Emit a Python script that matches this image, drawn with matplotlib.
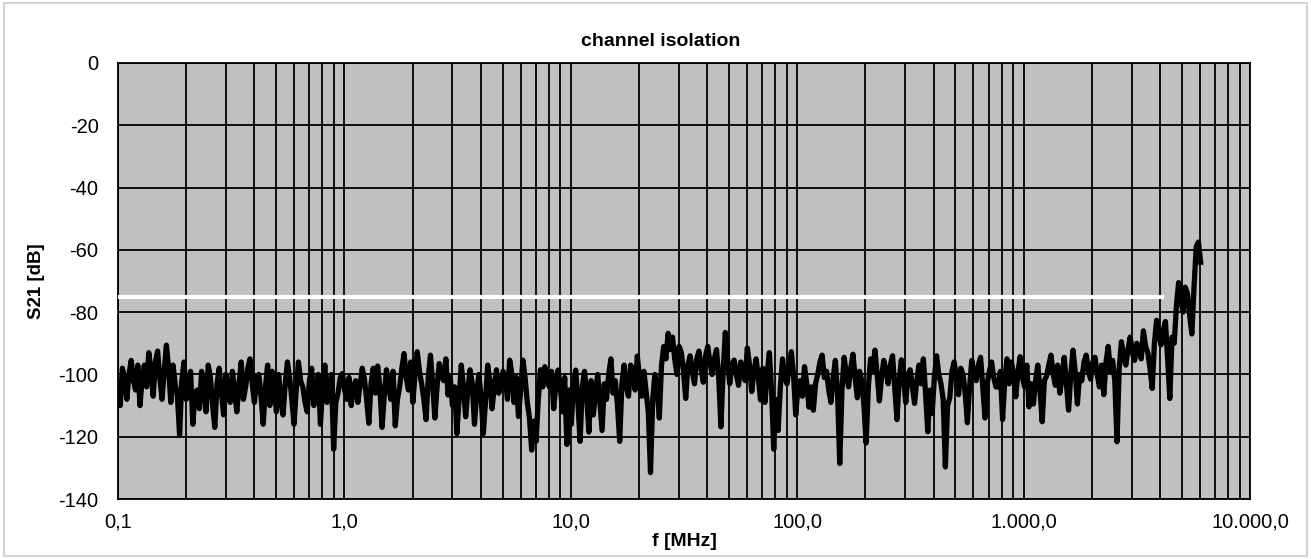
"""channel isolation plot (S21 vs frequency)"""

import matplotlib

matplotlib.use("Agg")
import matplotlib.pyplot as plt  # noqa: E402
import numpy as np  # noqa: E402
from matplotlib.patches import Rectangle  # noqa: E402
from matplotlib.ticker import FuncFormatter, LogLocator  # noqa: E402

plt.rcParams["font.family"] = ["Liberation Sans", "DejaVu Sans"]
plt.rcParams["axes.unicode_minus"] = False

# sweep definition (log sweep, MHz)
F_START = 0.1
F_STOP = 6050.0

s21_seg1 = [
    -104, -110, -98, -101, -108, -100, -95.5, -102, -105, -97,
    -110, -101, -97, -104, -93, -99, -107, -96, -92.5, -101,
    -108, -99, -90.6, -98, -109, -97, -103, -107, -119.5, -102,
    -96, -108, -104, -99, -116, -106, -105, -111, -99, -104,
    -112, -97, -101, -110, -117, -103, -98, -106, -113, -100,
    -104, -109, -99, -105, -112, -103, -96, -108, -104, -98,
    -95, -103, -109, -101, -100, -107, -116, -104, -97, -110,
    -99, -103, -112, -100, -108, -113, -103, -96, -101, -108,
    -116, -105, -96, -102, -104, -109, -112, -102, -98, -110,
    -106, -100, -116, -104, -97, -109, -106, -100, -124, -109,
]
s21_seg2 = [
    -106, -101, -99.7, -105, -108, -101, -110, -104, -102, -109,
    -103.5, -98, -101.5, -108, -115.7, -103, -98, -106, -97.3, -104,
    -117, -107, -98.5, -104, -108, -99, -116.5, -108, -104, -98,
    -93.3, -101, -105, -96, -109, -100, -92.7, -99, -103, -108,
    -114.5, -101, -93.8, -103, -114, -104, -96.5, -100, -102, -95,
    -106.6, -101, -110, -104, -119, -108, -97, -104, -113.6, -105,
    -98.5, -103, -116, -106, -100, -107, -119, -109, -97, -102,
    -111, -104, -98.5, -106, -104, -99, -101, -108, -95.4, -100,
    -109, -101, -113.5, -105, -95.4, -101, -109, -114, -124.3, -115,
    -121.5, -108, -98.5, -104, -97.5, -101, -104, -99, -111, -103,
]
s21_seg3 = [
    -98.6, -104, -112, -101, -122.5, -105, -116, -103, -98.6, -109,
    -121.5, -104, -99, -107, -118.5, -102, -113, -106, -100, -109,
    -118, -103, -108, -100, -95, -106, -102, -110, -121.5, -103,
    -97, -104, -107, -97, -99, -105, -94.1, -101, -107, -99,
    -105.5, -112, -131.5, -108, -100, -104, -114, -97, -91, -95,
    -86.8, -92, -88, -95, -100, -91, -93, -99, -107.7, -97,
    -94, -99, -103, -95, -92.5, -98, -102.5, -94, -91, -96,
    -100, -95, -92, -101, -116.8, -99, -86.5, -95, -103, -97,
    -95.4, -100, -103.5, -96, -98, -102, -91.5, -97, -105.5, -99,
    -95, -101, -108.2, -98, -109, -100, -93, -105, -124, -108,
]
s21_seg4 = [
    -118, -104, -95, -101, -103, -98, -92.7, -100, -113, -104,
    -102, -107, -97.5, -103, -110.5, -104, -111.5, -103, -100, -96,
    -93.8, -101, -99, -105, -109, -101, -95.5, -106, -128.6, -105,
    -94.5, -100, -104, -98, -93.5, -101, -107.5, -99, -102, -110,
    -122, -104, -95, -99, -92.2, -100, -108.5, -101, -95.5, -99,
    -103, -97, -94, -104, -114.5, -102, -95.3, -101, -109, -100,
    -98.5, -104, -109.3, -102, -97, -103, -95, -106, -118.4, -105,
    -112.5, -101, -94, -100, -103, -108, -129.7, -110, -107.5, -99,
    -96, -101, -106.5, -98, -100, -106, -115.5, -104, -95.5, -100,
    -102, -97, -94.5, -104, -114, -103, -99, -96, -101, -104,
]
s21_seg5 = [
    -104, -99, -114.5, -102, -95, -103, -96, -100, -107.2, -99,
    -94.3, -101, -104, -97, -110.4, -103, -109.5, -102, -97, -105,
    -115.2, -102, -100.5, -97, -93.8, -100, -103.5, -97, -106, -101,
    -94.5, -103, -111.5, -100, -92.2, -99, -109.5, -100, -102, -96,
    -93.8, -99, -101.5, -96, -94.5, -100, -104, -97, -106.5, -96,
    -91, -99, -95.5, -102, -121.6, -98, -89.5, -94, -97, -92,
    -88, -93, -95.5, -90, -92, -95, -86, -91, -93, -98,
    -104.5, -90, -82.6, -87, -90.5, -86, -83, -95, -107.7, -88,
    -90, -78, -70.5, -76, -80, -72, -74, -81, -87, -72,
    -59, -57.5, -64,
]

# white reference line
ref_level = -75
ref_f = [0.1, 4080.0]

x_ticks = [0.1, 1, 10, 100, 1000, 10000]
y_ticks = [0, -20, -40, -60, -80, -100, -120, -140]

s21 = np.array(s21_seg1 + s21_seg2 + s21_seg3 + s21_seg4 + s21_seg5)
freq = np.geomspace(F_START, F_STOP, len(s21))


def de_fmt(v, _pos):
    # 1,234.5 -> 1.234,5
    s = f"{v:,.1f}"
    return s.replace(",", "#").replace(".", ",").replace("#", ".")


fig = plt.figure(figsize=(13.11, 5.59), dpi=100)
ax = fig.add_axes([0.090, 0.1073, 0.8635, 0.78])
fig.patches.append(Rectangle((0.003, 0.005), 0.994, 0.99, transform=fig.transFigure,
                             fill=False, edgecolor="#d4d4d4", linewidth=1.5))

ax.set_facecolor("#c0c0c0")
ax.set_xscale("log")
ax.set_xlim(0.1, 10000)
ax.set_ylim(-140, 0)

ax.plot(ref_f, [ref_level, ref_level], color="white", linewidth=3.0, zorder=3)
ax.plot(freq, s21, color="black", linewidth=3.8, solid_joinstyle="round", zorder=4)

ax.set_xticks(x_ticks)
ax.xaxis.set_minor_locator(LogLocator(base=10, subs=np.arange(2, 10)))
ax.xaxis.set_major_formatter(FuncFormatter(de_fmt))
ax.xaxis.set_minor_formatter(FuncFormatter(lambda v, p: ""))
ax.set_yticks(y_ticks)

ax.set_axisbelow(True)
ax.grid(True, which="major", axis="both", color="black", linewidth=1.3)
ax.grid(True, which="minor", axis="x", color="black", linewidth=1.3)
ax.tick_params(which="both", length=0, labelsize=14.5)
ax.tick_params(axis="x", pad=10)
ax.tick_params(axis="y", pad=14)
for sp in ax.spines.values():
    sp.set_linewidth(1.3)
    sp.set_color("black")

fig.text(0.504, 0.925, "channel isolation", ha="center", va="center",
         fontsize=14, fontweight="bold")
ax.set_xlabel("f [MHz]", fontsize=14, fontweight="bold", labelpad=1)
ax.set_ylabel("S21 [dB]", fontsize=13.5, fontweight="bold", labelpad=10)

fig.savefig("out.png", dpi=100)
plt.close(fig)
